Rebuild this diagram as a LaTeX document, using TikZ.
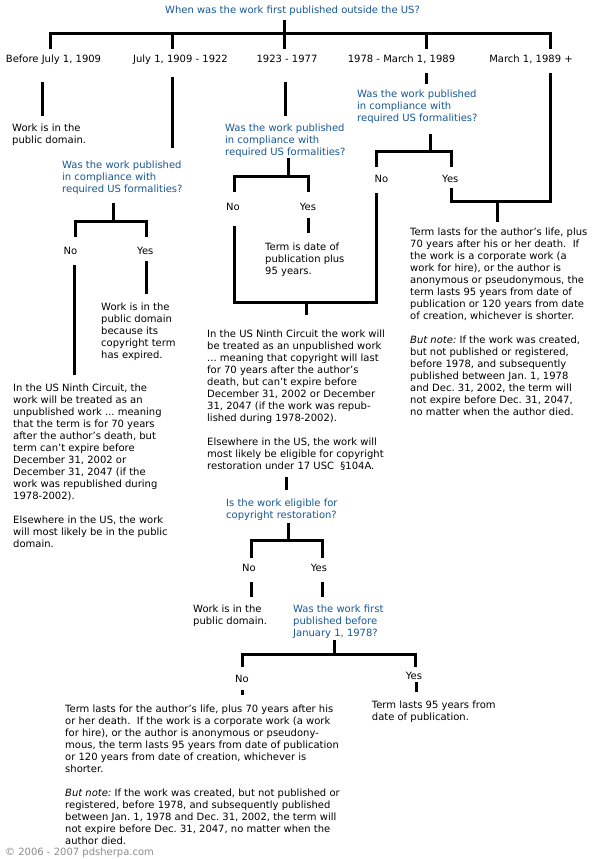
\documentclass[tikz,border=0pt]{standalone}
\usepackage{fontspec}
\setmainfont{DejaVu Sans}
\definecolor{qblue}{RGB}{24,88,150}
\definecolor{footgray}{RGB}{140,140,140}
\tikzset{
  txt/.style={inner sep=0pt,align=left,anchor=north west,font=\fontsize{10}{12}\selectfont},
  ask/.style={txt,text=qblue},
  lbl/.style={inner sep=0pt,anchor=base,font=\fontsize{10}{12}\selectfont},
  link/.style={line width=3pt,line cap=butt,line join=miter},
}
\begin{document}
\frenchspacing
\begin{tikzpicture}[x=1pt,y=-1pt]
\fill[white] (0,0) rectangle (595,859);
\useasboundingbox (0,0) rectangle (595,859);
% first question and the five periods
\node[lbl,text=qblue] (title) at (292.5,13.6) {When was the work first published outside the US?};
\draw[link] (284,20) -- (284,34);
\draw[link] (50,49) -- (50,34) -- (550,34) -- (550,49);
\foreach \x in {172,284,426} \draw[link] (\x,34) -- (\x,49);
\node[lbl] (dBefore) at (53.5,62.6) {Before July 1, 1909};
\node[lbl] (dEarly) at (180.5,62.6) {July 1, 1909 - 1922};
\node[lbl] (dMid) at (287,62.6) {1923 - 1977};
\node[lbl] (dLate) at (401.5,62.6) {1978 - March 1, 1989};
\node[lbl] (dNow) at (531,62.6) {March 1, 1989 +};
% before 1909
\draw[link] (42,82) -- (42,116);
\node[txt] (pd1) at (12,123.7) {Work is in the\\public domain.};
% 1909 - 1922
\draw[link] (172,77) -- (172,148);
\node[ask] (q1) at (62,161) {Was the work published\\in compliance with\\required US formalities?};
\draw[link] (113,203) -- (113,221);
\draw[link] (75,237) -- (75,221) -- (146,221) -- (146,237);
\node[lbl] (no1) at (70.5,254.3) {No};
\node[lbl] (yes1) at (145.3,254.3) {Yes};
\draw[link] (74,265) -- (74,375);
\draw[link] (146,261) -- (146,294);
\node[txt] (exp1) at (101,302.7) {Work is in the\\public domain\\because its\\copyright term\\has expired.};
\node[txt] (nc1) at (13,384) {In the US Ninth Circuit, the\\work will be treated as an\\unpublished work ... meaning\\that the term is for 70 years\\after the author’s death, but\\term can’t expire before\\December 31, 2002 or\\December 31, 2047 (if the\\work was republished during\\1978-2002).\\[12pt]Elsewhere in the US, the work\\will most likely be in the public\\domain.};
% 1923 - 1977
\draw[link] (285,82) -- (285,116);
\node[ask] (q2) at (225,124) {Was the work published\\in compliance with\\required US formalities?};
\draw[link] (288,158) -- (288,176);
\draw[link] (234,192) -- (234,176) -- (308,176) -- (308,192);
\node[lbl] (no2) at (233,210.6) {No};
\node[lbl] (yes2) at (308,210.6) {Yes};
\draw[link] (308,218) -- (308,233);
\node[txt] (t95a) at (265,242.7) {Term is date of\\publication plus\\95 years.};
\draw[link] (234,226) -- (234,302) -- (376,302) -- (376,193);
\draw[link] (306,302) -- (306,315);
\node[txt] (nc2) at (207,329.3) {In the US Ninth Circuit the work will\\be treated as an unpublished work\\... meaning that copyright will last\\for 70 years after the author’s\\death, but can’t expire before\\December 31, 2002 or December\\31, 2047 (if the work was repub-\\lished during 1978-2002).\\[12pt]Elsewhere in the US, the work will\\most likely be eligible for copyright\\restoration under 17 USC~~\S104A.};
\draw[link] (286,477) -- (286,490);
\node[ask] (q3) at (226,498.7) {Is the work eligible for\\copyright restoration?};
\draw[link] (288,523) -- (288,540);
\draw[link] (251,558) -- (251,540) -- (322,540) -- (322,558);
\node[lbl] (no3) at (249,571.6) {No};
\node[lbl] (yes3) at (319,571.6) {Yes};
\draw[link] (251,582) -- (251,597);
\draw[link] (322,582) -- (322,597);
\node[txt] (pd3) at (193,604.3) {Work is in the\\public domain.};
\node[ask] (q4) at (293,604.3) {Was the work first\\published before\\January 1, 1978?};
\draw[link] (334,640) -- (334,654);
\draw[link] (242,667) -- (242,654) -- (415,654) -- (415,667);
\node[lbl] (no4) at (242,682.6) {No};
\node[lbl] (yes4) at (414,679.3) {Yes};
\draw[link] (242,690) -- (242,695);
\draw[link] (416,682) -- (416,692);
\node[txt] (life4) at (65,704.3) {Term lasts for the author’s life, plus 70 years after his\\or her death.~ If the work is a corporate work (a work\\for hire), or the author is anonymous or pseudony-\\mous, the term lasts 95 years from date of publication\\or 120 years from date of creation, whichever is\\shorter.\\[12pt]\textit{But note:} If the work was created, but not published or\\registered, before 1978, and subsequently published\\between Jan. 1, 1978 and Dec. 31, 2002, the term will\\not expire before Dec. 31, 2047, no matter when the\\author died.};
\node[txt] (t95b) at (371.7,701) {Term lasts 95 years from\\date of publication.};
% 1978 - 1989 and after
\draw[link] (426,73) -- (426,84);
\node[ask] (q5) at (357,89.3) {Was the work published\\in compliance with\\required US formalities?};
\draw[link] (430,134) -- (430,151);
\draw[link] (376,167) -- (376,151) -- (451,151) -- (451,167);
\node[lbl] (no5) at (381.5,182.9) {No};
\node[lbl] (yes5) at (450.3,182.9) {Yes};
\draw[link] (451,188) -- (451,201) -- (550,201) -- (550,73);
\draw[link] (497,201) -- (497,222);
\node[txt] (life5) at (410,228) {Term lasts for the author’s life, plus\\70 years after his or her death.~ If\\the work is a corporate work (a\\work for hire), or the author is\\anonymous or pseudonymous, the\\term lasts 95 years from date of\\publication or 120 years from date\\of creation, whichever is shorter.\\[12pt]\textit{But note:} If the work was created,\\but not published or registered,\\before 1978, and subsequently\\published between Jan. 1, 1978\\and Dec. 31, 2002, the term will\\not expire before Dec. 31, 2047,\\no matter when the author died.};
\node[txt,text=footgray] (foot) at (5,847.5) {© 2006 - 2007 pdsherpa.com};
\end{tikzpicture}
\end{document}
